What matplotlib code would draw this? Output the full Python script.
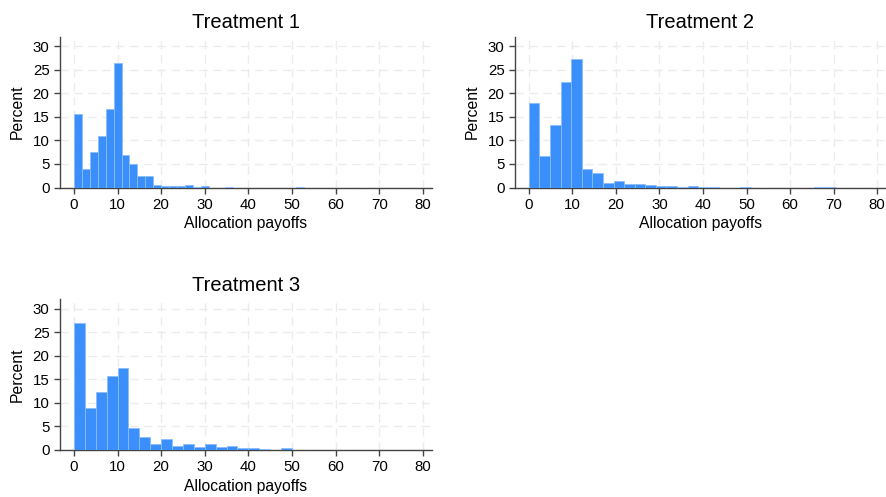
import numpy as np
import matplotlib.pyplot as plt

plt.rcParams['font.family'] = ['Liberation Sans', 'DejaVu Sans']

titles = ['Treatment 1', 'Treatment 2', 'Treatment 3']

# bin widths (each panel has its own binning)
bin_widths = [1.82, 2.43, 2.5]

# percent per bin, starting at 0
t1_pct = [15.7, 3.9, 7.5, 11.0, 16.7, 26.4, 6.9, 5.0, 2.4, 2.4,
          0.5, 0.35, 0.35, 0.35, 0.55, 0.2, 0.35, 0, 0, 0.1,
          0, 0, 0, 0, 0, 0, 0, 0, 0.1]
t2_pct = [18.0, 6.7, 13.3, 22.4, 27.3, 4.0, 3.1, 1.0, 1.4, 0.7,
          0.75, 0.55, 0.35, 0.3, 0.2, 0.3, 0.1, 0.05, 0, 0,
          0.1, 0, 0, 0, 0, 0, 0, 0.1, 0.1]
t3_pct = [26.9, 9.0, 12.4, 15.8, 17.5, 4.6, 2.8, 1.2, 2.4, 0.85,
          1.2, 0.6, 1.2, 0.6, 0.85, 0.4, 0.45, 0.2, 0.1, 0.45,
          0, 0, 0, 0.1, 0.1, 0.1, 0, 0.1, 0.1]

x_ticks = [0, 10, 20, 30, 40, 50, 60, 70, 80]
y_ticks = [0, 5, 10, 15, 20, 25, 30]

fig = plt.figure(figsize=(8.87, 4.97), dpi=100)
positions = [
    [0.0676, 0.6227, 0.419, 0.3034],
    [0.5806, 0.6227, 0.418, 0.3034],
    [0.0676, 0.0946, 0.419, 0.3032],
]

for pos, title, w, pct in zip(positions, titles, bin_widths, [t1_pct, t2_pct, t3_pct]):
    ax = fig.add_axes(pos)
    pct = np.array(pct)
    edges = np.arange(len(pct)) * w
    ax.bar(edges, pct, width=w, align='edge', color='#3a8ffb',
           edgecolor='#8cbcfc', linewidth=0.6, zorder=3)

    ax.set_xlim(-3.2, 82)
    ax.set_ylim(0, 32)
    ax.set_xticks(x_ticks)
    ax.set_yticks(y_ticks)
    ax.grid(True, color='#ececec', linestyle=(0, (6, 4)), linewidth=1, zorder=0)
    ax.set_axisbelow(True)

    for s in ['top', 'right']:
        ax.spines[s].set_visible(False)
    for s in ['left', 'bottom']:
        ax.spines[s].set_color('#444444')
        ax.spines[s].set_linewidth(1)
    ax.tick_params(axis='both', length=4.5, width=1, color='#444444',
                   labelsize=10.8, pad=3)

    ax.set_title(title, fontsize=14.5, pad=6)
    ax.set_xlabel('Allocation payoffs', fontsize=11.3, labelpad=3)
    ax.set_ylabel('Percent', fontsize=11.3, labelpad=6)

fig.savefig('out.png', dpi=100, facecolor='white')
